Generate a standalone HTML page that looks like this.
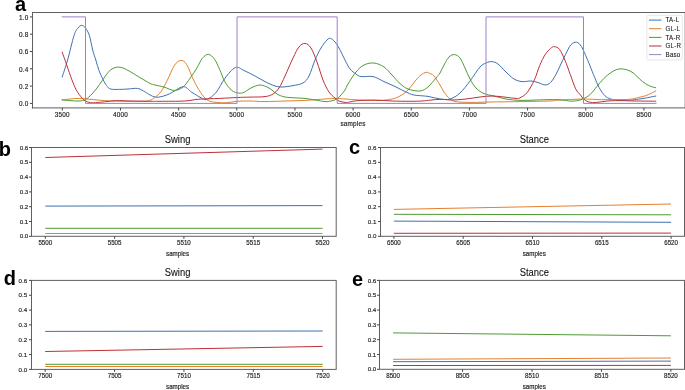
<!DOCTYPE html>
<html><head><meta charset="utf-8"><style>
html,body{margin:0;padding:0;width:685px;height:390px;overflow:hidden;background:#fff;font-family:"Liberation Sans", sans-serif;}
</style></head><body>
<svg width="685" height="390" viewBox="0 0 685 390" style="position:absolute;left:0;top:0;will-change:transform">
<rect width="685" height="390" fill="#fff"/>
<defs><clipPath id="ca"><rect x="32.5" y="12.5" width="653.0" height="95.0"/></clipPath></defs>
<g clip-path="url(#ca)" fill="none" stroke-width="1.00" stroke-linejoin="round" stroke-linecap="square">
<path d="M62.20,76.90 C63.10,74.08 65.63,66.88 67.60,60.00 C69.57,53.12 72.27,40.93 74.00,35.60 C75.73,30.27 76.72,29.70 78.00,28.00 C79.28,26.30 80.45,25.40 81.70,25.40 C82.95,25.40 84.22,26.30 85.50,28.00 C86.78,29.70 88.20,31.93 89.40,35.60 C90.60,39.27 91.63,45.93 92.70,50.00 C93.77,54.07 94.75,56.58 95.80,60.00 C96.85,63.42 97.77,67.20 99.00,70.50 C100.23,73.80 101.95,77.30 103.20,79.80 C104.45,82.30 105.27,83.97 106.50,85.50 C107.73,87.03 108.43,88.35 110.60,89.00 C112.77,89.65 116.60,89.40 119.50,89.40 C122.40,89.40 125.02,89.17 128.00,89.00 C130.98,88.83 134.85,88.08 137.40,88.40 C139.95,88.72 140.82,89.62 143.30,90.90 C145.78,92.18 149.73,95.07 152.30,96.10 C154.87,97.13 155.88,97.45 158.70,97.10 C161.52,96.75 165.13,95.73 169.20,94.00 C173.27,92.27 179.33,86.98 183.10,86.70 C186.87,86.42 188.60,90.35 191.80,92.30 C195.00,94.25 199.68,97.25 202.30,98.40 C204.92,99.55 205.18,100.22 207.50,99.20 C209.82,98.18 213.30,95.78 216.20,92.30 C219.10,88.82 221.70,82.43 224.90,78.30 C228.10,74.17 232.22,68.80 235.40,67.50 C238.58,66.20 240.73,69.08 244.00,70.50 C247.27,71.92 251.50,74.15 255.00,76.00 C258.50,77.85 261.67,79.93 265.00,81.60 C268.33,83.27 272.00,85.10 275.00,86.00 C278.00,86.90 280.00,87.07 283.00,87.00 C286.00,86.93 289.67,86.27 293.00,85.60 C296.33,84.93 300.33,84.60 303.00,83.00 C305.67,81.40 307.00,79.83 309.00,76.00 C311.00,72.17 313.00,64.67 315.00,60.00 C317.00,55.33 319.00,51.33 321.00,48.00 C323.00,44.67 325.40,41.60 327.00,40.00 C328.60,38.40 329.27,38.07 330.60,38.40 C331.93,38.73 333.60,40.40 335.00,42.00 C336.40,43.60 337.33,45.00 339.00,48.00 C340.67,51.00 343.17,56.50 345.00,60.00 C346.83,63.50 348.17,66.67 350.00,69.00 C351.83,71.33 354.17,72.73 356.00,74.00 C357.83,75.27 358.17,76.17 361.00,76.60 C363.83,77.03 369.17,75.77 373.00,76.60 C376.83,77.43 380.17,79.87 384.00,81.60 C387.83,83.33 392.33,85.27 396.00,87.00 C399.67,88.73 403.00,90.67 406.00,92.00 C409.00,93.33 410.33,94.27 414.00,95.00 C417.67,95.73 423.67,95.73 428.00,96.40 C432.33,97.07 436.33,98.57 440.00,99.00 C443.67,99.43 446.67,100.00 450.00,99.00 C453.33,98.00 456.67,96.00 460.00,93.00 C463.33,90.00 466.67,85.33 470.00,81.00 C473.33,76.67 477.33,70.00 480.00,67.00 C482.67,64.00 484.00,63.90 486.00,63.00 C488.00,62.10 490.00,61.43 492.00,61.60 C494.00,61.77 495.67,62.27 498.00,64.00 C500.33,65.73 503.33,69.50 506.00,72.00 C508.67,74.50 511.33,77.40 514.00,79.00 C516.67,80.60 519.17,81.27 522.00,81.60 C524.83,81.93 528.33,80.83 531.00,81.00 C533.67,81.17 535.67,81.95 538.00,82.60 C540.33,83.25 542.92,84.90 545.00,84.90 C547.08,84.90 548.68,84.33 550.50,82.60 C552.32,80.87 554.32,77.27 555.90,74.50 C557.48,71.73 558.42,69.30 560.00,66.00 C561.58,62.70 563.60,58.22 565.40,54.70 C567.20,51.18 568.95,46.98 570.80,44.90 C572.65,42.82 574.72,41.90 576.50,42.20 C578.28,42.50 579.77,44.02 581.50,46.70 C583.23,49.38 585.48,55.12 586.90,58.30 C588.32,61.48 588.72,62.63 590.00,65.80 C591.28,68.97 593.07,73.65 594.60,77.30 C596.13,80.95 597.47,84.62 599.20,87.70 C600.93,90.78 603.07,93.92 605.00,95.80 C606.93,97.68 608.50,98.28 610.80,99.00 C613.10,99.72 615.53,99.92 618.80,100.10 C622.07,100.28 627.13,100.25 630.40,100.10 C633.67,99.95 635.90,99.53 638.40,99.20 C640.90,98.87 643.08,98.52 645.40,98.10 C647.72,97.68 650.58,97.03 652.30,96.70 C654.02,96.37 655.13,96.20 655.70,96.10" stroke="#4070b0"/>
<path d="M62.20,99.90 C63.50,99.75 67.15,99.25 70.00,99.00 C72.85,98.75 75.97,98.35 79.30,98.40 C82.63,98.45 85.78,98.93 90.00,99.30 C94.22,99.67 99.60,100.28 104.60,100.60 C109.60,100.92 113.55,101.08 120.00,101.20 C126.45,101.32 138.30,101.47 143.30,101.30 C148.30,101.13 148.30,100.68 150.00,100.20 C151.70,99.72 151.75,99.72 153.50,98.40 C155.25,97.08 158.18,95.35 160.50,92.30 C162.82,89.25 165.08,84.60 167.40,80.10 C169.72,75.60 172.13,68.58 174.40,65.30 C176.67,62.02 178.97,60.55 181.00,60.40 C183.03,60.25 184.50,61.12 186.60,64.40 C188.70,67.68 191.28,75.45 193.60,80.10 C195.92,84.75 198.18,88.97 200.50,92.30 C202.82,95.63 204.88,98.42 207.50,100.10 C210.12,101.78 213.00,101.97 216.20,102.40 C219.40,102.83 223.22,102.88 226.70,102.70 C230.18,102.52 233.22,101.58 237.10,101.30 C240.98,101.02 245.35,100.95 250.00,101.00 C254.65,101.05 259.17,101.60 265.00,101.60 C270.83,101.60 278.33,101.20 285.00,101.00 C291.67,100.80 298.33,100.73 305.00,100.40 C311.67,100.07 319.67,99.33 325.00,99.00 C330.33,98.67 333.67,98.40 337.00,98.40 C340.33,98.40 341.17,98.73 345.00,99.00 C348.83,99.27 354.17,99.77 360.00,100.00 C365.83,100.23 374.67,100.57 380.00,100.40 C385.33,100.23 388.67,99.73 392.00,99.00 C395.33,98.27 397.33,97.50 400.00,96.00 C402.67,94.50 405.33,92.67 408.00,90.00 C410.67,87.33 413.83,82.50 416.00,80.00 C418.17,77.50 419.28,76.28 421.00,75.00 C422.72,73.72 424.63,72.47 426.30,72.30 C427.97,72.13 429.72,73.38 431.00,74.00 C432.28,74.62 432.50,74.17 434.00,76.00 C435.50,77.83 438.33,82.33 440.00,85.00 C441.67,87.67 442.33,89.67 444.00,92.00 C445.67,94.33 448.00,97.40 450.00,99.00 C452.00,100.60 452.67,101.03 456.00,101.60 C459.33,102.17 464.33,102.33 470.00,102.40 C475.67,102.47 481.67,102.13 490.00,102.00 C498.33,101.87 510.00,101.77 520.00,101.60 C530.00,101.43 543.33,101.27 550.00,101.00 C556.67,100.73 554.50,100.33 560.00,100.00 C565.50,99.67 578.00,99.13 583.00,99.00 C588.00,98.87 586.92,99.10 590.00,99.20 C593.08,99.30 596.70,99.53 601.50,99.60 C606.30,99.67 613.98,99.67 618.80,99.60 C623.62,99.53 627.13,99.55 630.40,99.20 C633.67,98.85 635.90,98.07 638.40,97.50 C640.90,96.93 643.28,96.48 645.40,95.80 C647.52,95.12 649.38,94.22 651.10,93.40 C652.82,92.58 654.93,91.32 655.70,90.90" stroke="#e47f2e"/>
<path d="M62.20,99.90 C63.50,100.02 67.20,100.42 70.00,100.60 C72.80,100.78 76.42,101.18 79.00,101.00 C81.58,100.82 83.33,100.67 85.50,99.50 C87.67,98.33 90.08,95.92 92.00,94.00 C93.92,92.08 95.28,90.25 97.00,88.00 C98.72,85.75 100.47,83.08 102.30,80.50 C104.13,77.92 106.38,74.42 108.00,72.50 C109.62,70.58 110.45,69.90 112.00,69.00 C113.55,68.10 115.47,67.27 117.30,67.10 C119.13,66.93 120.88,67.27 123.00,68.00 C125.12,68.73 127.37,70.02 130.00,71.50 C132.63,72.98 136.30,75.40 138.80,76.90 C141.30,78.40 143.13,79.40 145.00,80.50 C146.87,81.60 148.33,82.75 150.00,83.50 C151.67,84.25 152.68,84.42 155.00,85.00 C157.32,85.58 160.67,86.08 163.90,87.00 C167.13,87.92 171.20,90.50 174.40,90.50 C177.60,90.50 180.50,89.03 183.10,87.00 C185.70,84.97 187.68,81.48 190.00,78.30 C192.32,75.12 194.95,71.23 197.00,67.90 C199.05,64.57 200.40,60.57 202.30,58.30 C204.20,56.03 206.37,54.15 208.40,54.30 C210.43,54.45 212.62,56.65 214.50,59.20 C216.38,61.75 217.97,65.83 219.70,69.60 C221.43,73.37 222.87,78.32 224.90,81.80 C226.93,85.28 229.57,88.62 231.90,90.50 C234.23,92.38 236.88,92.80 238.90,93.10 C240.92,93.40 241.98,93.15 244.00,92.30 C246.02,91.45 248.33,89.22 251.00,88.00 C253.67,86.78 257.00,85.00 260.00,85.00 C263.00,85.00 266.17,86.50 269.00,88.00 C271.83,89.50 274.33,92.50 277.00,94.00 C279.67,95.50 281.67,96.33 285.00,97.00 C288.33,97.67 293.67,97.77 297.00,98.00 C300.33,98.23 302.00,98.07 305.00,98.40 C308.00,98.73 311.67,99.47 315.00,100.00 C318.33,100.53 322.33,101.43 325.00,101.60 C327.67,101.77 329.00,101.43 331.00,101.00 C333.00,100.57 335.33,100.00 337.00,99.00 C338.67,98.00 339.67,96.50 341.00,95.00 C342.33,93.50 343.83,91.83 345.00,90.00 C346.17,88.17 346.17,87.00 348.00,84.00 C349.83,81.00 353.33,75.17 356.00,72.00 C358.67,68.83 361.00,66.50 364.00,65.00 C367.00,63.50 370.67,62.67 374.00,63.00 C377.33,63.33 381.00,65.00 384.00,67.00 C387.00,69.00 389.33,72.23 392.00,75.00 C394.67,77.77 397.33,81.27 400.00,83.60 C402.67,85.93 404.67,87.77 408.00,89.00 C411.33,90.23 416.67,91.33 420.00,91.00 C423.33,90.67 425.33,89.17 428.00,87.00 C430.67,84.83 434.00,80.33 436.00,78.00 C438.00,75.67 438.67,75.17 440.00,73.00 C441.33,70.83 442.50,67.67 444.00,65.00 C445.50,62.33 447.27,58.73 449.00,57.00 C450.73,55.27 452.57,54.43 454.40,54.60 C456.23,54.77 458.23,55.77 460.00,58.00 C461.77,60.23 463.33,64.50 465.00,68.00 C466.67,71.50 468.17,75.67 470.00,79.00 C471.83,82.33 473.67,85.57 476.00,88.00 C478.33,90.43 481.00,92.27 484.00,93.60 C487.00,94.93 490.33,95.10 494.00,96.00 C497.67,96.90 501.67,98.27 506.00,99.00 C510.33,99.73 515.00,100.23 520.00,100.40 C525.00,100.57 531.00,100.13 536.00,100.00 C541.00,99.87 546.00,99.63 550.00,99.60 C554.00,99.57 556.53,99.55 560.00,99.80 C563.47,100.05 567.80,100.98 570.80,101.10 C573.80,101.22 575.92,100.90 578.00,100.50 C580.08,100.10 581.30,99.68 583.30,98.70 C585.30,97.72 587.73,96.63 590.00,94.60 C592.27,92.57 594.60,89.18 596.90,86.50 C599.20,83.82 601.48,80.80 603.80,78.50 C606.12,76.20 608.68,74.18 610.80,72.70 C612.92,71.22 614.58,70.23 616.50,69.60 C618.42,68.97 620.38,68.80 622.30,68.90 C624.22,69.00 626.08,69.47 628.00,70.20 C629.92,70.93 631.87,71.83 633.80,73.30 C635.73,74.77 637.67,77.28 639.60,79.00 C641.53,80.72 643.48,82.35 645.40,83.60 C647.32,84.85 649.38,85.82 651.10,86.50 C652.82,87.18 654.93,87.50 655.70,87.70" stroke="#4f9a34"/>
<path d="M62.20,52.20 C62.95,54.32 65.08,60.30 66.70,64.90 C68.32,69.50 70.28,75.58 71.90,79.80 C73.52,84.02 74.67,87.10 76.40,90.20 C78.13,93.30 80.70,96.55 82.30,98.40 C83.90,100.25 84.27,100.57 86.00,101.30 C87.73,102.03 89.60,102.72 92.70,102.80 C95.80,102.88 100.63,102.17 104.60,101.80 C108.57,101.43 112.27,100.73 116.50,100.60 C120.73,100.47 124.53,100.88 130.00,101.00 C135.47,101.12 144.30,101.25 149.30,101.30 C154.30,101.35 154.08,101.35 160.00,101.30 C165.92,101.25 178.33,101.35 184.80,101.00 C191.27,100.65 192.98,99.63 198.80,99.20 C204.62,98.77 213.32,98.68 219.70,98.40 C226.08,98.12 232.05,97.72 237.10,97.50 C242.15,97.28 245.35,97.25 250.00,97.10 C254.65,96.95 261.17,97.12 265.00,96.60 C268.83,96.08 270.67,95.43 273.00,94.00 C275.33,92.57 277.00,91.00 279.00,88.00 C281.00,85.00 282.67,81.00 285.00,76.00 C287.33,71.00 290.67,62.83 293.00,58.00 C295.33,53.17 297.00,49.43 299.00,47.00 C301.00,44.57 303.00,43.23 305.00,43.40 C307.00,43.57 309.00,44.90 311.00,48.00 C313.00,51.10 315.00,56.67 317.00,62.00 C319.00,67.33 321.00,75.00 323.00,80.00 C325.00,85.00 327.00,89.00 329.00,92.00 C331.00,95.00 333.33,96.50 335.00,98.00 C336.67,99.50 337.33,100.27 339.00,101.00 C340.67,101.73 343.38,102.20 345.00,102.40 C346.62,102.60 346.63,102.48 348.70,102.20 C350.77,101.92 353.03,101.05 357.40,100.70 C361.77,100.35 369.08,100.05 374.90,100.10 C380.72,100.15 386.50,100.80 392.30,101.00 C398.10,101.20 404.77,101.30 409.70,101.30 C414.63,101.30 418.42,101.20 421.90,101.00 C425.38,100.80 427.42,100.38 430.60,100.10 C433.78,99.82 437.43,99.32 441.00,99.30 C444.57,99.28 447.83,100.05 452.00,100.00 C456.17,99.95 461.33,99.50 466.00,99.00 C470.67,98.50 475.67,97.50 480.00,97.00 C484.33,96.50 488.00,96.00 492.00,96.00 C496.00,96.00 500.00,96.60 504.00,97.00 C508.00,97.40 513.33,98.27 516.00,98.40 C518.67,98.53 518.13,98.78 520.00,97.80 C521.87,96.82 524.80,95.48 527.20,92.50 C529.60,89.52 532.32,84.40 534.40,79.90 C536.48,75.40 537.92,69.70 539.70,65.50 C541.48,61.30 543.30,57.53 545.10,54.70 C546.90,51.87 548.93,49.83 550.50,48.50 C552.07,47.17 553.00,46.55 554.50,46.70 C556.00,46.85 557.77,47.17 559.50,49.40 C561.23,51.63 563.10,55.92 564.90,60.10 C566.70,64.28 568.50,69.70 570.30,74.50 C572.10,79.30 573.98,85.47 575.70,88.90 C577.42,92.33 579.33,93.47 580.60,95.10 C581.87,96.73 581.95,97.55 583.30,98.70 C584.65,99.85 586.43,101.38 588.70,102.00 C590.97,102.62 593.80,102.57 596.90,102.40 C600.00,102.23 603.65,101.30 607.30,101.00 C610.95,100.70 614.00,100.60 618.80,100.60 C623.60,100.60 629.95,100.90 636.10,101.00 C642.25,101.10 652.43,101.17 655.70,101.20" stroke="#bb3138"/>
<path d="M62.20,16.90 L85.50,16.90 L85.50,103.40 L237.00,103.40 L237.00,16.90 L337.20,16.90 L337.20,103.40 L486.00,103.40 L486.00,16.90 L583.50,16.90 L583.50,103.40 L656.00,103.40" stroke="#9d80cc"/>
</g>
<g fill="none" stroke="#606060" stroke-width="1">
<path d="M32.5,12.0 L32.5,108.4 M32.0,12.5 L685.5,12.5 M32.0,107.9 L685.5,107.9"/>
<path d="M685.2,12 L685.2,108.4"/>
</g>
<path d="M29.9,103.40 L32.5,103.40 M29.9,86.10 L32.5,86.10 M29.9,68.80 L32.5,68.80 M29.9,51.50 L32.5,51.50 M29.9,34.20 L32.5,34.20 M29.9,16.90 L32.5,16.90 M62.30,107.9 L62.30,110.5 M120.46,107.9 L120.46,110.5 M178.62,107.9 L178.62,110.5 M236.78,107.9 L236.78,110.5 M294.94,107.9 L294.94,110.5 M353.10,107.9 L353.10,110.5 M411.26,107.9 L411.26,110.5 M469.42,107.9 L469.42,110.5 M527.58,107.9 L527.58,110.5 M585.74,107.9 L585.74,110.5 M643.90,107.9 L643.90,110.5" stroke="#444" stroke-width="1" fill="none"/>
<g font-family='"Liberation Sans", sans-serif' font-size="6.4" fill="#222" stroke="#222" stroke-width="0.15" letter-spacing="0.2">
<text x="28.6" y="106.20" text-anchor="end">0.0</text>
<text x="28.6" y="88.90" text-anchor="end">0.2</text>
<text x="28.6" y="71.60" text-anchor="end">0.4</text>
<text x="28.6" y="54.30" text-anchor="end">0.6</text>
<text x="28.6" y="37.00" text-anchor="end">0.8</text>
<text x="28.6" y="19.70" text-anchor="end">1.0</text>
<text x="62.30" y="116.8" text-anchor="middle">3500</text>
<text x="120.46" y="116.8" text-anchor="middle">4000</text>
<text x="178.62" y="116.8" text-anchor="middle">4500</text>
<text x="236.78" y="116.8" text-anchor="middle">5000</text>
<text x="294.94" y="116.8" text-anchor="middle">5500</text>
<text x="353.10" y="116.8" text-anchor="middle">6000</text>
<text x="411.26" y="116.8" text-anchor="middle">6500</text>
<text x="469.42" y="116.8" text-anchor="middle">7000</text>
<text x="527.58" y="116.8" text-anchor="middle">7500</text>
<text x="585.74" y="116.8" text-anchor="middle">8000</text>
<text x="643.90" y="116.8" text-anchor="middle">8500</text>
<text x="353" y="126.3" text-anchor="middle">samples</text>
</g>
<rect x="646.9" y="15.3" width="35.3" height="44.6" rx="1.5" fill="#fff" fill-opacity="0.8" stroke="#ddd" stroke-width="0.7"/>
<path d="M649,20.10 L661.5,20.10" stroke="#4070b0" stroke-width="1.00"/>
<text transform="translate(665.6,22.40) scale(1,1.17)" font-family='"Liberation Sans", sans-serif' font-size="6.2" fill="#222" stroke="#222" stroke-width="0.1" letter-spacing="0.2">TA-L</text>
<path d="M649,28.70 L661.5,28.70" stroke="#e47f2e" stroke-width="1.00"/>
<text transform="translate(665.6,31.00) scale(1,1.17)" font-family='"Liberation Sans", sans-serif' font-size="6.2" fill="#222" stroke="#222" stroke-width="0.1" letter-spacing="0.2">GL-L</text>
<path d="M649,37.40 L661.5,37.40" stroke="#4f9a34" stroke-width="1.00"/>
<text transform="translate(665.6,39.70) scale(1,1.17)" font-family='"Liberation Sans", sans-serif' font-size="6.2" fill="#222" stroke="#222" stroke-width="0.1" letter-spacing="0.2">TA-R</text>
<path d="M649,46.00 L661.5,46.00" stroke="#bb3138" stroke-width="1.00"/>
<text transform="translate(665.6,48.30) scale(1,1.17)" font-family='"Liberation Sans", sans-serif' font-size="6.2" fill="#222" stroke="#222" stroke-width="0.1" letter-spacing="0.2">GL-R</text>
<path d="M649,54.60 L661.5,54.60" stroke="#9d80cc" stroke-width="1.00"/>
<text transform="translate(665.6,56.90) scale(1,1.17)" font-family='"Liberation Sans", sans-serif' font-size="6.2" fill="#222" stroke="#222" stroke-width="0.1" letter-spacing="0.2">Baso</text>
<g font-family='"Liberation Sans", sans-serif' font-weight="bold" font-size="20" fill="#000">
<text x="15" y="11.0">a</text>
<text x="-1.2" y="156">b</text>
<text x="349" y="154">c</text>
<text x="3.8" y="284.6">d</text>
<text x="352" y="286.3">e</text>
</g>
<defs><clipPath id="c462"><rect x="31.5" y="147.5" width="304.7" height="88.8"/></clipPath></defs>
<g clip-path="url(#c462)" fill="none" stroke-width="1.00">
<path d="M45.30,157.50 L322.50,149.10" stroke="#bb3138"/>
<path d="M45.30,206.10 L322.50,205.60" stroke="#4070b0"/>
<path d="M45.30,228.30 L322.50,228.30" stroke="#4f9a34"/>
<path d="M45.30,233.50 L322.50,233.50" stroke="#e47f2e"/>
</g>
<rect x="31.5" y="147.5" width="304.7" height="88.8" fill="none" stroke="#606060" stroke-width="1"/>
<path d="M29.0,147.50 L31.5,147.50 M29.0,162.30 L31.5,162.30 M29.0,177.10 L31.5,177.10 M29.0,191.90 L31.5,191.90 M29.0,206.70 L31.5,206.70 M29.0,221.50 L31.5,221.50 M29.0,236.30 L31.5,236.30 M45.30,236.3 L45.30,238.8 M114.60,236.3 L114.60,238.8 M183.90,236.3 L183.90,238.8 M253.20,236.3 L253.20,238.8 M322.50,236.3 L322.50,238.8" stroke="#444" stroke-width="1" fill="none"/>
<g font-family='"Liberation Sans", sans-serif' font-size="6.2" fill="#222" stroke="#222" stroke-width="0.15">
<text x="28.3" y="149.60" text-anchor="end">0.6</text>
<text x="28.3" y="164.40" text-anchor="end">0.5</text>
<text x="28.3" y="179.20" text-anchor="end">0.4</text>
<text x="28.3" y="194.00" text-anchor="end">0.3</text>
<text x="28.3" y="208.80" text-anchor="end">0.2</text>
<text x="28.3" y="223.60" text-anchor="end">0.1</text>
<text x="28.3" y="238.40" text-anchor="end">0.0</text>
<text transform="translate(45.30,245.1) scale(1,1.12)" text-anchor="middle">5500</text>
<text transform="translate(114.60,245.1) scale(1,1.12)" text-anchor="middle">5505</text>
<text transform="translate(183.90,245.1) scale(1,1.12)" text-anchor="middle">5510</text>
<text transform="translate(253.20,245.1) scale(1,1.12)" text-anchor="middle">5515</text>
<text transform="translate(322.50,245.1) scale(1,1.12)" text-anchor="middle">5520</text>
<text transform="translate(177.6,255.9) scale(1,1.3)" text-anchor="middle">samples</text>
</g>
<text transform="translate(177.6,143.0) scale(1,1.2)" text-anchor="middle" font-family='"Liberation Sans", sans-serif' font-size="9.4" fill="#111" stroke="#111" stroke-width="0.08">Swing</text>
<defs><clipPath id="c3952"><rect x="380.5" y="147.5" width="304.0" height="88.8"/></clipPath></defs>
<g clip-path="url(#c3952)" fill="none" stroke-width="1.00">
<path d="M393.90,209.40 L671.10,204.00" stroke="#e47f2e"/>
<path d="M393.90,214.30 L671.10,214.80" stroke="#4f9a34"/>
<path d="M393.90,221.10 L671.10,222.30" stroke="#4070b0"/>
<path d="M393.90,233.30 L671.10,233.10" stroke="#bb3138"/>
</g>
<rect x="380.5" y="147.5" width="304.0" height="88.8" fill="none" stroke="#606060" stroke-width="1"/>
<path d="M378.0,147.50 L380.5,147.50 M378.0,162.30 L380.5,162.30 M378.0,177.10 L380.5,177.10 M378.0,191.90 L380.5,191.90 M378.0,206.70 L380.5,206.70 M378.0,221.50 L380.5,221.50 M378.0,236.30 L380.5,236.30 M393.90,236.3 L393.90,238.8 M463.20,236.3 L463.20,238.8 M532.50,236.3 L532.50,238.8 M601.80,236.3 L601.80,238.8 M671.10,236.3 L671.10,238.8" stroke="#444" stroke-width="1" fill="none"/>
<g font-family='"Liberation Sans", sans-serif' font-size="6.2" fill="#222" stroke="#222" stroke-width="0.15">
<text x="376.4" y="149.60" text-anchor="end">0.6</text>
<text x="376.4" y="164.40" text-anchor="end">0.5</text>
<text x="376.4" y="179.20" text-anchor="end">0.4</text>
<text x="376.4" y="194.00" text-anchor="end">0.3</text>
<text x="376.4" y="208.80" text-anchor="end">0.2</text>
<text x="376.4" y="223.60" text-anchor="end">0.1</text>
<text x="376.4" y="238.40" text-anchor="end">0.0</text>
<text transform="translate(393.90,245.1) scale(1,1.12)" text-anchor="middle">6500</text>
<text transform="translate(463.20,245.1) scale(1,1.12)" text-anchor="middle">6505</text>
<text transform="translate(532.50,245.1) scale(1,1.12)" text-anchor="middle">6510</text>
<text transform="translate(601.80,245.1) scale(1,1.12)" text-anchor="middle">6515</text>
<text transform="translate(671.10,245.1) scale(1,1.12)" text-anchor="middle">6520</text>
<text transform="translate(534.3,255.9) scale(1,1.3)" text-anchor="middle">samples</text>
</g>
<text transform="translate(534.3,143.0) scale(1,1.2)" text-anchor="middle" font-family='"Liberation Sans", sans-serif' font-size="9.4" fill="#111" stroke="#111" stroke-width="0.08">Stance</text>
<defs><clipPath id="c595"><rect x="31.5" y="280.4" width="304.7" height="89.0"/></clipPath></defs>
<g clip-path="url(#c595)" fill="none" stroke-width="1.00">
<path d="M45.20,331.40 L322.70,331.00" stroke="#4070b0"/>
<path d="M45.20,351.50 L322.70,346.40" stroke="#bb3138"/>
<path d="M45.20,364.30 L322.70,364.30" stroke="#4f9a34"/>
<path d="M45.20,366.50 L322.70,366.50" stroke="#e47f2e"/>
</g>
<rect x="31.5" y="280.4" width="304.7" height="89.0" fill="none" stroke="#606060" stroke-width="1"/>
<path d="M29.0,280.40 L31.5,280.40 M29.0,295.23 L31.5,295.23 M29.0,310.07 L31.5,310.07 M29.0,324.90 L31.5,324.90 M29.0,339.73 L31.5,339.73 M29.0,354.57 L31.5,354.57 M29.0,369.40 L31.5,369.40 M45.20,369.4 L45.20,371.9 M114.58,369.4 L114.58,371.9 M183.95,369.4 L183.95,371.9 M253.32,369.4 L253.32,371.9 M322.70,369.4 L322.70,371.9" stroke="#444" stroke-width="1" fill="none"/>
<g font-family='"Liberation Sans", sans-serif' font-size="6.2" fill="#222" stroke="#222" stroke-width="0.15">
<text x="27.2" y="282.50" text-anchor="end">0.6</text>
<text x="27.2" y="297.33" text-anchor="end">0.5</text>
<text x="27.2" y="312.17" text-anchor="end">0.4</text>
<text x="27.2" y="327.00" text-anchor="end">0.3</text>
<text x="27.2" y="341.83" text-anchor="end">0.2</text>
<text x="27.2" y="356.67" text-anchor="end">0.1</text>
<text x="27.2" y="371.50" text-anchor="end">0.0</text>
<text transform="translate(45.20,378.2) scale(1,1.12)" text-anchor="middle">7500</text>
<text transform="translate(114.58,378.2) scale(1,1.12)" text-anchor="middle">7505</text>
<text transform="translate(183.95,378.2) scale(1,1.12)" text-anchor="middle">7510</text>
<text transform="translate(253.32,378.2) scale(1,1.12)" text-anchor="middle">7515</text>
<text transform="translate(322.70,378.2) scale(1,1.12)" text-anchor="middle">7520</text>
<text transform="translate(177.6,389.0) scale(1,1.3)" text-anchor="middle">samples</text>
</g>
<text transform="translate(177.6,275.9) scale(1,1.2)" text-anchor="middle" font-family='"Liberation Sans", sans-serif' font-size="9.4" fill="#111" stroke="#111" stroke-width="0.08">Swing</text>
<defs><clipPath id="c4075"><rect x="379.5" y="280.4" width="305.0" height="88.9"/></clipPath></defs>
<g clip-path="url(#c4075)" fill="none" stroke-width="1.00">
<path d="M393.10,332.90 L670.90,335.80" stroke="#4f9a34"/>
<path d="M393.10,359.30 L670.90,358.00" stroke="#e47f2e"/>
<path d="M393.10,361.70 L670.90,361.10" stroke="#4070b0"/>
<path d="M393.10,365.50 L670.90,365.40" stroke="#bb3138"/>
</g>
<rect x="379.5" y="280.4" width="305.0" height="88.9" fill="none" stroke="#606060" stroke-width="1"/>
<path d="M377.0,280.40 L379.5,280.40 M377.0,295.22 L379.5,295.22 M377.0,310.03 L379.5,310.03 M377.0,324.85 L379.5,324.85 M377.0,339.67 L379.5,339.67 M377.0,354.48 L379.5,354.48 M377.0,369.30 L379.5,369.30 M393.10,369.3 L393.10,371.8 M462.55,369.3 L462.55,371.8 M532.00,369.3 L532.00,371.8 M601.45,369.3 L601.45,371.8 M670.90,369.3 L670.90,371.8" stroke="#444" stroke-width="1" fill="none"/>
<g font-family='"Liberation Sans", sans-serif' font-size="6.2" fill="#222" stroke="#222" stroke-width="0.15">
<text x="376.3" y="282.50" text-anchor="end">0.6</text>
<text x="376.3" y="297.32" text-anchor="end">0.5</text>
<text x="376.3" y="312.13" text-anchor="end">0.4</text>
<text x="376.3" y="326.95" text-anchor="end">0.3</text>
<text x="376.3" y="341.77" text-anchor="end">0.2</text>
<text x="376.3" y="356.58" text-anchor="end">0.1</text>
<text x="376.3" y="371.40" text-anchor="end">0.0</text>
<text transform="translate(393.10,378.1) scale(1,1.12)" text-anchor="middle">8500</text>
<text transform="translate(462.55,378.1) scale(1,1.12)" text-anchor="middle">8505</text>
<text transform="translate(532.00,378.1) scale(1,1.12)" text-anchor="middle">8510</text>
<text transform="translate(601.45,378.1) scale(1,1.12)" text-anchor="middle">8515</text>
<text transform="translate(670.90,378.1) scale(1,1.12)" text-anchor="middle">8520</text>
<text transform="translate(534.3,388.9) scale(1,1.3)" text-anchor="middle">samples</text>
</g>
<text transform="translate(534.3,275.9) scale(1,1.2)" text-anchor="middle" font-family='"Liberation Sans", sans-serif' font-size="9.4" fill="#111" stroke="#111" stroke-width="0.08">Stance</text>
</svg>
</body></html>
